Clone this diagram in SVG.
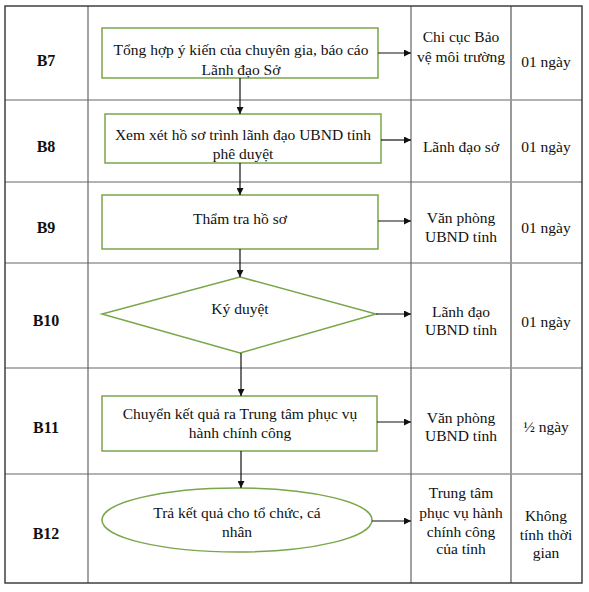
<svg xmlns="http://www.w3.org/2000/svg" width="589" height="592" viewBox="0 0 589 592">
<style>
.t{font-family:"Liberation Serif","Times New Roman",serif;font-size:15.5px;fill:#111;text-anchor:middle}
.b{font-weight:bold;font-size:16px}
.shape{fill:#fff;stroke:#7aa64a;stroke-width:1.5}
.grid{stroke:#666;stroke-width:1.2;fill:none}
.conn{stroke:#111;stroke-width:1.2;fill:none;marker-end:url(#ah)}
</style>
<defs>
<marker id="ah" viewBox="0 0 10 10" refX="10" refY="5" markerWidth="8" markerHeight="7" markerUnits="userSpaceOnUse" orient="auto">
<path d="M0,0L10,5L0,10z" fill="#111"/>
</marker>
</defs>
<rect x="0" y="0" width="589" height="592" fill="#fff"/>
<g id="table">
<line class="grid" x1="5" y1="100" x2="582" y2="100"/>
<line class="grid" x1="5" y1="182" x2="582" y2="182"/>
<line class="grid" x1="5" y1="263" x2="582" y2="263"/>
<line class="grid" x1="5" y1="368" x2="582" y2="368"/>
<line class="grid" x1="5" y1="474" x2="582" y2="474"/>
<line class="grid" x1="88" y1="6" x2="88" y2="583"/>
<line class="grid" x1="411" y1="6" x2="411" y2="583"/>
<line x1="511" y1="6" x2="511" y2="583" stroke="#999" stroke-width="2"/>
<rect x="5" y="6" width="577" height="577" fill="none" stroke="#333" stroke-width="1.4"/>
</g>
<g id="labels">
<text class="t b" x="46" y="66">B7</text>
<text class="t b" x="46" y="152">B8</text>
<text class="t b" x="46" y="233">B9</text>
<text class="t b" x="46" y="326">B10</text>
<text class="t b" x="46" y="433">B11</text>
<text class="t b" x="46" y="539">B12</text>
</g>
<g id="n7">
<rect class="shape" x="102" y="28" width="276" height="50"/>
<text class="t" x="241" y="55">Tổng hợp ý kiến của chuyên gia, báo cáo</text>
<text class="t" x="241" y="75">Lãnh đạo Sở</text>
</g>
<g id="n8">
<rect class="shape" x="105" y="114" width="276" height="49"/>
<text class="t" x="243" y="140">Xem xét hồ sơ trình lãnh đạo UBND tỉnh</text>
<text class="t" x="243" y="159">phê duyệt</text>
</g>
<g id="n9">
<rect class="shape" x="102" y="195" width="276" height="54"/>
<text class="t" x="240" y="224">Thẩm tra hồ sơ</text>
</g>
<g id="n10">
<polygon class="shape" points="240,277 376,314 240,353 102,314"/>
<text class="t" x="240" y="314">Ký duyệt</text>
</g>
<g id="n11">
<rect class="shape" x="102" y="396" width="275" height="55"/>
<text class="t" x="240" y="419">Chuyển kết quả ra Trung tâm phục vụ</text>
<text class="t" x="240" y="438">hành chính công</text>
</g>
<g id="n12">
<ellipse class="shape" cx="237" cy="520" rx="135" ry="32"/>
<text class="t" x="237" y="518">Trả kết quả cho tổ chức, cá</text>
<text class="t" x="237" y="537">nhân</text>
</g>
<g id="r7">
<text class="t" x="461" y="42">Chi cục Bảo</text>
<text class="t" x="461" y="62">vệ môi trường</text>
<text class="t" x="546" y="67">01 ngày</text>
</g>
<g id="r8">
<text class="t" x="461" y="152">Lãnh đạo sở</text>
<text class="t" x="546" y="152">01 ngày</text>
</g>
<g id="r9">
<text class="t" x="461" y="223">Văn phòng</text>
<text class="t" x="461" y="242">UBND tỉnh</text>
<text class="t" x="546" y="233">01 ngày</text>
</g>
<g id="r10">
<text class="t" x="461" y="317">Lãnh đạo</text>
<text class="t" x="461" y="335">UBND tỉnh</text>
<text class="t" x="546" y="327">01 ngày</text>
</g>
<g id="r11">
<text class="t" x="461" y="423">Văn phòng</text>
<text class="t" x="461" y="441">UBND tỉnh</text>
<text class="t" x="546" y="432">½ ngày</text>
</g>
<g id="r12">
<text class="t" x="461" y="498">Trung tâm</text>
<text class="t" x="461" y="518">phục vụ hành</text>
<text class="t" x="461" y="537">chính công</text>
<text class="t" x="461" y="554">của tỉnh</text>
<text class="t" x="546" y="521">Không</text>
<text class="t" x="546" y="540">tính thời</text>
<text class="t" x="546" y="558">gian</text>
</g>
<g id="connectors">
<line class="conn" x1="240" y1="78" x2="240" y2="114"/>
<line class="conn" x1="240" y1="163" x2="240" y2="195"/>
<line class="conn" x1="240" y1="249" x2="240" y2="277"/>
<line class="conn" x1="241" y1="353" x2="241" y2="396"/>
<line class="conn" x1="241" y1="451" x2="241" y2="488"/>
<line class="conn" x1="378" y1="53" x2="411" y2="53"/>
<line class="conn" x1="381" y1="140" x2="411" y2="140"/>
<line class="conn" x1="378" y1="221" x2="411" y2="221"/>
<line class="conn" x1="376" y1="314" x2="411" y2="314"/>
<line class="conn" x1="377" y1="422" x2="411" y2="422"/>
<line class="conn" x1="372" y1="521" x2="411" y2="521"/>
</g>
</svg>
